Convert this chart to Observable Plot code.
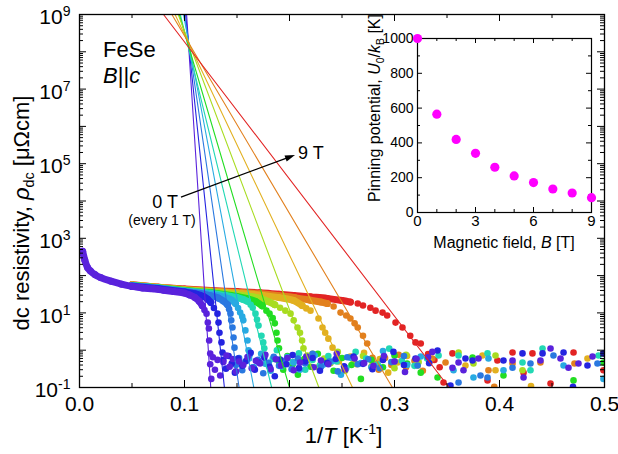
<!DOCTYPE html>
<html><head><meta charset="utf-8">
<script src="https://cdn.jsdelivr.net/npm/d3@7"></script>
<script src="https://cdn.jsdelivr.net/npm/@observablehq/plot@0.6"></script>
<style>
body{margin:0;background:#fff;}
#wrap{position:relative;width:618px;height:454px;}
#wrap svg{position:absolute;overflow:visible;}
</style></head><body><div id="wrap"></div>
<script>
const FONT = '"Liberation Sans", Arial, Helvetica, sans-serif';

// ---- data ----
const fields = [0,1,2,3,4,5,6,7,8,9];
const colors = ["#5a22dc","#2424e0","#2a78e0","#28aae2","#22d8b4","#22dd22","#a8dc20","#e2b020","#e2801e","#e22424"];

// dense (overlapping) part of each curve: [1/T, rho]
const band0 = [[0.003,450],[0.005,263],[0.0076,166],[0.0105,132],[0.015,105],[0.02,89.1],[0.03,70.8],[0.04,58.9],[0.05,51.3],[0.06,46.8],[0.07,44.2],[0.08,40.7],[0.09,37.2],[0.1,33.9],[0.105,30.2],[0.11,25.7],[0.114,20.4],[0.117,15.5]];
const band1 = [[0.05,51.9],[0.075,44.2],[0.1,36.3],[0.11,32.4],[0.118,27.5],[0.122,23.4],[0.125,19.1]];
const band2 = [[0.05,52.5],[0.075,45.2],[0.1,37.2],[0.115,33.1],[0.125,28.8],[0.132,25.1],[0.137,20.9],[0.141,16.6]];
const band3 = [[0.05,53.1],[0.075,45.7],[0.1,38.0],[0.12,33.1],[0.13,29.5],[0.14,25.1],[0.145,21.9],[0.1486,17.8]];
const band4 = [[0.05,53.7],[0.075,46.2],[0.1,38.9],[0.125,33.5],[0.14,28.8],[0.15,25.7],[0.156,22.9],[0.16,20.4]];
const band5 = [[0.05,54.3],[0.075,46.8],[0.1,39.8],[0.125,34.7],[0.15,27.5],[0.16,24.0],[0.168,20.0],[0.174,15.5]];
const band6 = [[0.05,55.0],[0.075,47.3],[0.1,40.7],[0.125,36.3],[0.15,30.9],[0.16,28.2],[0.172,24.5],[0.18,20.0],[0.186,16.6]];
const band7 = [[0.05,55.6],[0.075,47.9],[0.1,41.7],[0.125,37.6],[0.15,33.9],[0.175,29.5],[0.19,25.7],[0.204,21.4],[0.212,15.8]];
const band8 = [[0.05,56.2],[0.075,48.4],[0.1,42.7],[0.125,38.5],[0.15,35.5],[0.172,32.4],[0.19,28.8],[0.205,25.7],[0.22,21.9],[0.23,19.5],[0.236,17.8]];
const band9 = [[0.05,56.9],[0.075,49.0],[0.1,43.7],[0.125,39.8],[0.15,37.2],[0.172,34.7],[0.19,31.6],[0.204,29.5],[0.22,26.9],[0.236,24.5],[0.25,21.4],[0.258,19.5]];

// separated points of the steep drop
const knee0 = [[0.119,12.0],[0.121,9.55],[0.1222,5.5],[0.1232,3.8],[0.1235,1.82],[0.1245,0.81]];
const knee1 = [[0.128,13.5],[0.1314,9.55],[0.1324,5.5],[0.1333,2.95],[0.1352,1.62],[0.1362,0.87]];
const knee2 = [[0.1425,12.6],[0.1438,9.55],[0.1445,6.31],[0.1457,4.07],[0.1467,2.19],[0.1476,1.17]];
const knee3 = [[0.151,13.5],[0.153,10.2],[0.155,7.94],[0.156,6.31],[0.158,3.39],[0.16,1.82],[0.161,1.0]];
const knee4 = [[0.163,16.6],[0.165,13.8],[0.1676,9.55],[0.169,6.61],[0.1705,4.57],[0.1733,2.45],[0.175,1.62],[0.176,1.12]];
const knee5 = [[0.178,11.5],[0.181,9.55],[0.184,7.24],[0.186,5.25],[0.1876,2.95],[0.1886,1.82],[0.19,1.12]];
const knee6 = [[0.191,13.8],[0.196,11.5],[0.201,9.55],[0.204,6.31],[0.2076,4.07],[0.21,2.95],[0.212,1.82],[0.2133,1.12],[0.217,0.72]];
const knee7 = [[0.216,13.2],[0.22,11.5],[0.2276,7.08],[0.2314,4.07],[0.234,2.95],[0.237,2.04],[0.241,1.17],[0.246,0.63]];
const knee8 = [[0.242,14.8],[0.2486,10.2],[0.254,8.51],[0.258,7.08],[0.262,5.25],[0.265,4.07],[0.27,2.45],[0.274,1.51],[0.279,0.63]];
const knee9 = [[0.265,17.8],[0.27,15.8],[0.277,13.8],[0.282,11.5],[0.2886,10.2],[0.293,8.51],[0.301,5.5],[0.3076,4.07],[0.315,2.45],[0.32,1.62],[0.325,1.51],[0.332,0.79]];

// noise floor below Tc
const noise0 = [[0.1245,0.42],[0.1255,0.17],[0.127,0.65],[0.129,0.3],[0.1315,0.55],[0.134,0.21],[0.137,0.48],[0.14,0.72],[0.143,0.36],[0.146,0.58],[0.149,0.27],[0.152,0.5],[0.156,0.4],[0.16,0.66],[0.164,0.33],[0.168,0.52],[0.172,0.44],[0.177,0.75],[0.182,0.31],[0.187,0.57],[0.192,0.39],[0.198,0.62],[0.204,0.29],[0.21,0.47],[0.216,0.68],[0.223,0.35],[0.23,0.53],[0.237,0.42],[0.245,0.8],[0.253,0.3],[0.262,0.6],[0.271,0.45],[0.28,0.38],[0.29,0.7],[0.3,0.5],[0.31,0.26],[0.321,0.58],[0.332,0.65],[0.336,0.9],[0.3552,0.34],[0.361,0.47],[0.3657,0.29],[0.38,0.6],[0.4124,0.53],[0.4229,0.185],[0.439,0.53],[0.4486,1.11],[0.4581,0.6],[0.4657,0.34],[0.4752,0.44],[0.4886,0.68]];
const noise1 = [[0.137,0.55],[0.1395,0.32],[0.142,0.7],[0.145,0.44],[0.148,0.25],[0.151,0.6],[0.155,0.38],[0.159,0.52],[0.163,0.85],[0.167,0.3],[0.171,0.47],[0.176,0.63],[0.181,0.36],[0.186,0.2],[0.191,0.56],[0.197,0.42],[0.203,0.74],[0.209,0.33],[0.215,0.5],[0.222,0.62],[0.229,0.28],[0.236,0.45],[0.244,0.58],[0.252,0.37],[0.261,0.68],[0.27,0.43],[0.279,0.31],[0.289,0.55],[0.299,0.9],[0.309,0.4],[0.32,0.6],[0.333,0.45],[0.341,0.98],[0.3533,0.113],[0.3676,0.6],[0.3743,0.53],[0.4038,0.53],[0.4219,0.82],[0.441,0.82],[0.461,0.87],[0.47,0.105],[0.4838,0.39],[0.499,0.82]];
const noise2 = [[0.149,0.4],[0.152,0.62],[0.155,0.29],[0.158,0.5],[0.162,0.75],[0.166,0.35],[0.17,0.55],[0.175,0.24],[0.18,0.46],[0.185,0.67],[0.19,0.38],[0.196,0.53],[0.202,0.31],[0.208,0.6],[0.215,0.44],[0.222,0.8],[0.23,0.36],[0.238,0.5],[0.246,0.27],[0.255,0.65],[0.265,0.42],[0.275,0.57],[0.286,0.33],[0.297,0.48],[0.309,0.7],[0.322,0.39],[0.361,0.136],[0.3819,0.21],[0.3886,0.185],[0.4124,0.34],[0.4295,0.44],[0.4514,0.72],[0.4933,0.44]];
const noise3 = [[0.1615,0.6],[0.165,0.35],[0.169,0.52],[0.173,0.8],[0.177,0.43],[0.182,0.28],[0.187,0.57],[0.192,0.38],[0.198,0.66],[0.204,0.47],[0.21,0.3],[0.217,0.55],[0.224,0.72],[0.232,0.41],[0.24,0.5],[0.249,0.22],[0.258,0.63],[0.268,0.45],[0.278,0.35],[0.289,0.95],[0.3,0.5],[0.312,0.4],[0.325,0.68],[0.3562,0.29],[0.3752,0.185],[0.3895,0.6],[0.4038,0.29],[0.461,0.39],[0.499,0.17]];
const noise4 = [[0.1765,0.75],[0.18,0.45],[0.184,0.58],[0.188,1.0],[0.193,0.36],[0.198,0.62],[0.203,0.48],[0.209,0.82],[0.215,0.3],[0.222,0.55],[0.229,0.4],[0.237,0.7],[0.245,0.5],[0.254,0.33],[0.263,0.9],[0.273,0.6],[0.284,0.42],[0.295,1.1],[0.307,0.52],[0.319,0.38],[0.331,0.6],[0.342,0.72],[0.361,0.72],[0.3886,0.82],[0.4219,0.47],[0.4295,0.29],[0.441,1.11],[0.4943,0.72]];
const noise5 = [[0.19,0.5],[0.194,0.3],[0.198,0.7],[0.203,0.42],[0.208,0.22],[0.214,0.58],[0.22,0.36],[0.227,0.8],[0.234,0.46],[0.242,0.28],[0.25,0.62],[0.259,0.4],[0.268,0.17],[0.278,0.55],[0.289,0.35],[0.3,0.72],[0.312,0.44],[0.325,0.25],[0.341,0.185],[0.3743,0.64],[0.4038,0.21],[0.4705,0.155],[0.499,0.47]];
const noise6 = [[0.2175,0.55],[0.222,0.8],[0.227,0.35],[0.233,0.6],[0.239,0.45],[0.246,0.9],[0.253,0.28],[0.261,0.52],[0.27,0.7],[0.279,0.4],[0.289,0.62],[0.3,0.33],[0.311,0.75],[0.323,0.48],[0.361,0.87],[0.3752,0.44],[0.3962,0.72],[0.4219,0.29]];
const noise7 = [[0.247,0.5],[0.252,0.3],[0.258,0.68],[0.264,0.42],[0.271,0.85],[0.278,0.36],[0.286,0.58],[0.294,0.25],[0.303,0.47],[0.312,0.7],[0.322,0.39],[0.333,0.55],[0.3676,0.39],[0.3838,0.72],[0.3962,0.29],[0.43,0.11],[0.4838,0.6]];
const noise8 = [[0.28,0.45],[0.285,0.3],[0.291,0.62],[0.297,0.4],[0.304,0.75],[0.311,0.35],[0.319,0.52],[0.327,0.28],[0.336,0.6],[0.3486,0.47],[0.3895,0.29],[0.395,0.105],[0.4124,0.44],[0.439,0.47],[0.4714,0.44]];
const noise9 = [[0.338,0.55],[0.343,0.35],[0.3467,0.136],[0.3552,0.82],[0.3886,0.155],[0.398,0.53],[0.4124,0.87],[0.4229,0.25],[0.4314,0.82],[0.4486,0.128],[0.4705,0.87],[0.499,0.29]];

// Arrhenius fit lines: 1/T where they cross rho = 1e9 and rho = 0.1
const fitTop    = [0.102,0.101,0.100,0.099,0.096,0.095,0.094,0.091,0.088,0.080];
const fitBottom = [0.125,0.138,0.152,0.166,0.183,0.200,0.228,0.260,0.298,0.352];

// inset: pinning potential vs field
const inB = [0,1,2,3,4,5,6,7,8,9];
const inU = [1000,565,420,340,260,210,172,135,112,85];

// tick values
const xMajor = [0,0.1,0.2,0.3,0.4,0.5];
const xMinor = [0.05,0.15,0.25,0.35,0.45];
const yLabels = [0.1,10,1e3,1e5,1e7,1e9];
const inXMajor = [0,3,6,9], inXMinor = [1,2,4,5,7,8];
const inYMajor = [0,200,400,600,800,1000], inYMinor = [100,300,500,700,900];

// annotation anchors (data units)
const annFeSe = [0.0229, 7.0e7];
const annBc = [0.0229, 1.41e7];
const ann9T = [0.2086, 1.3e5];
const ann0T = [0.0943, 6.3e3];
const annEvery = [0.079, 2.2e3];
const arrowFrom = [0.0971, 1.24e4], arrowTo = [0.2057, 1.66e5];

// ---- build ----
const bands = [band0,band1,band2,band3,band4,band5,band6,band7,band8,band9];
const knees = [knee0,knee1,knee2,knee3,knee4,knee5,knee6,knee7,knee8,knee9];
const noises = [noise0,noise1,noise2,noise3,noise4,noise5,noise6,noise7,noise8,noise9];

const W = 618, H = 454, mL = 79, mR = 14, mT = 14, mB = 67;
const pW = W - mL - mR, pH = H - mT - mB;
const yDecades = d3.range(-1, 10).map(e => Math.pow(10, e));
const yMinor = d3.range(-1, 9).flatMap(e => d3.range(2, 10).map(m => m * Math.pow(10, e)));

const X = d => d[0], Y = d => d[1];
const marks = [];
for (let k = 9; k >= 0; k--) {
  marks.push(Plot.line(bands[k], {x: X, y: Y, stroke: colors[k], strokeWidth: 7, strokeLinecap: "round", strokeLinejoin: "round", curve: "monotone-x"}));
  marks.push(Plot.dot(bands[k], {x: X, y: Y, r: 3.5, fill: colors[k]}));
  marks.push(Plot.dot(knees[k], {x: X, y: Y, r: 3.3, fill: colors[k]}));
}
for (let k = 9; k >= 0; k--) {
  marks.push(Plot.dot(noises[k], {x: X, y: Y, r: 3.3, fill: colors[k], clip: true}));
}
for (let k = 0; k < fields.length; k++) {
  marks.push(Plot.line([[fitTop[k], 1e9], [fitBottom[k], 0.1]], {x: X, y: Y, stroke: colors[k], strokeWidth: 1.1}));
}
marks.push(
  Plot.ruleX(xMajor, {insetTop: pH - 7, stroke: "black"}),
  Plot.ruleX(xMajor, {insetBottom: pH - 7, stroke: "black"}),
  Plot.ruleX(xMinor, {insetTop: pH - 4, stroke: "black"}),
  Plot.ruleX(xMinor, {insetBottom: pH - 4, stroke: "black"}),
  Plot.ruleY(yDecades, {insetRight: pW - 7, stroke: "black"}),
  Plot.ruleY(yDecades, {insetLeft: pW - 7, stroke: "black"}),
  Plot.ruleY(yMinor, {insetRight: pW - 4, stroke: "black"}),
  Plot.ruleY(yMinor, {insetLeft: pW - 4, stroke: "black"}),
  Plot.frame({stroke: "black", strokeWidth: 1.3}),
  Plot.axisX(xMajor, {tickSize: 0, tickPadding: 9, fontSize: 21, tickFormat: d3.format(".1f"), label: null}),
  Plot.axisY(yLabels, {tickSize: 0, tickPadding: 9, fontSize: 21, dy: 3, tickFormat: d => "10^" + Math.round(Math.log10(d)), label: null})
);

const main = Plot.plot({
  width: W, height: H, marginLeft: mL, marginRight: mR, marginTop: mT, marginBottom: mB,
  x: {domain: [0, 0.5]},
  y: {type: "log", domain: [0.1, 1e9]},
  style: {fontFamily: FONT, background: "transparent", overflow: "visible", color: "black"},
  marks
});
main.style.left = "0px"; main.style.top = "0px";
document.getElementById("wrap").appendChild(main);

// superscripts in y tick labels
d3.select(main).selectAll('[aria-label="y-axis tick label"] text').each(function() {
  const s = this.textContent.split("^");
  this.textContent = "";
  const t = d3.select(this);
  t.append("tspan").text(s[0]);
  t.append("tspan").attr("dy", -8).attr("font-size", 14).text(s[1]);
});

function rich(svg, {x, y, size, anchor = "start", rotate = 0, parts}) {
  const t = d3.select(svg).append("text")
    .attr("font-family", FONT).attr("font-size", size).attr("text-anchor", anchor).attr("fill", "black")
    .attr("transform", `translate(${x},${y})` + (rotate ? ` rotate(${rotate})` : ""));
  let off = 0;
  for (const p of parts) {
    const o = typeof p === "string" ? {t: p} : p;
    const ts = t.append("tspan").text(o.t);
    const target = o.sup ? -0.42 * size : o.sub ? 0.22 * size : 0;
    if (target !== off) { ts.attr("dy", target - off); off = target; }
    if (o.sup || o.sub) ts.attr("font-size", size * 0.65);
    if (o.i) ts.attr("font-style", "italic");
  }
}

const sx = main.scale("x"), sy = main.scale("y");
const px = p => [sx.apply(p[0]), sy.apply(p[1])];

rich(main, {x: mL + pW / 2 + 2, y: 443, size: 22, anchor: "middle", parts: ["1/", {t: "T", i: 1}, " [K", {t: "-1", sup: 1}, "]"]});
rich(main, {x: 29, y: 213, size: 22, anchor: "middle", rotate: -90, parts: ["dc resistivity, ", {t: "ρ", i: 1}, {t: "dc", sub: 1}, " [μΩcm]"]});
{
  const a = px(annFeSe); rich(main, {x: a[0], y: a[1], size: 22, parts: ["FeSe"]});
  const b = px(annBc); rich(main, {x: b[0], y: b[1], size: 22, parts: [{t: "B", i: 1}, "||", {t: "c", i: 1}]});
  const c = px(ann9T); rich(main, {x: c[0], y: c[1], size: 18, parts: ["9 T"]});
  const d = px(ann0T); rich(main, {x: d[0], y: d[1], size: 18, anchor: "end", parts: ["0 T"]});
  const e = px(annEvery); rich(main, {x: e[0], y: e[1], size: 14, anchor: "middle", parts: ["(every 1 T)"]});
  const p0 = px(arrowFrom), p1 = px(arrowTo);
  const dx = p1[0] - p0[0], dy = p1[1] - p0[1], L = Math.hypot(dx, dy), ux = dx / L, uy = dy / L;
  const hl = 10, hw = 3.2;
  const bx = p1[0] - ux * hl, by = p1[1] - uy * hl;
  const g = d3.select(main).append("g");
  g.append("line").attr("x1", p0[0]).attr("y1", p0[1]).attr("x2", bx + ux).attr("y2", by + uy).attr("stroke", "black").attr("stroke-width", 1.3);
  g.append("path").attr("d", `M${p1[0]},${p1[1]}L${bx - uy * hw},${by + ux * hw}L${bx + uy * hw},${by - ux * hw}Z`).attr("fill", "black");
}

// ---- inset ----
const iW = 230, iH = 230, imL = 42, imR = 14, imT = 10, imB = 46;
const ipW = iW - imL - imR, ipH = iH - imT - imB;
const inset = Plot.plot({
  width: iW, height: iH, marginLeft: imL, marginRight: imR, marginTop: imT, marginBottom: imB,
  x: {domain: [0, 9]}, y: {domain: [0, 1000]},
  style: {fontFamily: FONT, background: "transparent", overflow: "visible", color: "black"},
  marks: [
    Plot.ruleX(inXMajor, {insetTop: ipH - 5, stroke: "black"}),
    Plot.ruleX(inXMajor, {insetBottom: ipH - 5, stroke: "black"}),
    Plot.ruleX(inXMinor, {insetTop: ipH - 3, stroke: "black"}),
    Plot.ruleX(inXMinor, {insetBottom: ipH - 3, stroke: "black"}),
    Plot.ruleY(inYMajor, {insetRight: ipW - 5, stroke: "black"}),
    Plot.ruleY(inYMajor, {insetLeft: ipW - 5, stroke: "black"}),
    Plot.ruleY(inYMinor, {insetRight: ipW - 3, stroke: "black"}),
    Plot.ruleY(inYMinor, {insetLeft: ipW - 3, stroke: "black"}),
    Plot.frame({stroke: "black", strokeWidth: 1.2}),
    Plot.axisX(inXMajor, {tickSize: 0, tickPadding: 3, fontSize: 15, tickFormat: d => String(d), label: null}),
    Plot.axisY(inYMajor, {tickSize: 0, tickPadding: 4, fontSize: 14, tickFormat: d => String(d), label: null}),
    Plot.dot(inB.map((b, i) => [b, inU[i]]), {x: X, y: Y, r: 4.6, fill: "#ff00ff"})
  ]
});
inset.style.left = "375px"; inset.style.top = "28px";
document.getElementById("wrap").appendChild(inset);
rich(inset, {x: imL + ipW / 2, y: 220, size: 16, anchor: "middle", parts: ["Magnetic field, ", {t: "B", i: 1}, " [T]"]});
rich(inset, {x: 5, y: 80, size: 16, anchor: "middle", rotate: -90, parts: ["Pinning potential, ", {t: "U", i: 1}, {t: "0", sub: 1}, "/", {t: "k", i: 1}, {t: "B", sub: 1}, " [K]"]});
</script></body></html>
